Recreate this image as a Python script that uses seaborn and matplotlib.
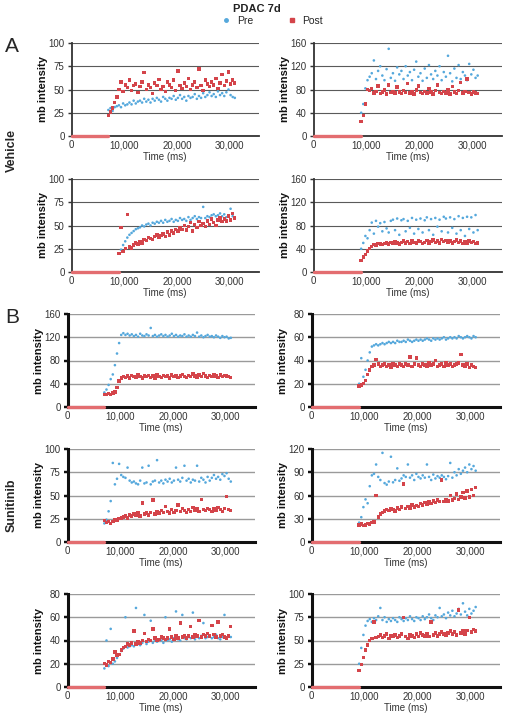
import numpy as np
import pandas as pd
import matplotlib
matplotlib.use("Agg")
import matplotlib.pyplot as plt
from matplotlib.lines import Line2D
import seaborn as sns

# sampling interval of the read-off points (ms)
step_ms = 400
x_ticks = [0, 10000, 20000, 30000]
x_tick_labels = ["0", "10,000", "20,000", "30,000"]

# panels row by row: Vehicle (rows 1-2), Sunitinib (rows 3-5)
panel_onset = [7000, 9000, 9000, 9000, 7000, 9000, 7000, 9000, 7000, 9000]
panel_ymax = [100, 160, 100, 160, 160, 80, 100, 120, 80, 100]
panel_ystep = [25, 40, 25, 40, 40, 20, 25, 30, 20, 25]

pre_1 = [28, 30, 27, 31, 32, 33, 31, 35, 33, 34,
         36, 34, 38, 35, 37, 38, 36, 40, 37, 39,
         36, 40, 38, 41, 39, 37, 42, 40, 38, 41,
         40, 43, 39, 41, 44, 40, 42, 38, 43, 41,
         42, 45, 40, 43, 41, 46, 42, 44, 47, 43,
         45, 42, 48, 44, 46, 43, 47, 50, 44, 42, 41]
post_1 = [22, 26, 30, 36, 42, 50, 58, 48, 55, 52,
          60, 49, 54, 56, 47, 53, 58, 68, 50, 55,
          52, 46, 57, 54, 61, 50, 53, 48, 58, 55,
          52, 60, 49, 70, 54, 51, 57, 53, 62, 50,
          55, 58, 52, 72, 54, 49, 60, 56, 53, 58,
          55, 62, 51, 57, 66, 54, 59, 69, 56, 60, 57]

pre_2 = [40, 55, 82, 96, 102, 108, 130, 98, 112, 120,
         104, 96, 115, 150, 100, 108, 95, 118, 106, 112,
         98, 120, 104, 110, 96, 114, 128, 102, 108, 95,
         116, 100, 122, 106, 98, 112, 104, 120, 96, 110,
         102, 138, 108, 94, 116, 100, 122, 98, 110, 104,
         96, 124, 106, 114, 100, 104]
post_2 = [25, 35, 55, 80, 78, 82, 74, 77, 86, 73,
          76, 79, 72, 88, 75, 77, 74, 84, 76, 73,
          78, 75, 90, 74, 77, 72, 79, 86, 75, 73,
          77, 74, 82, 76, 72, 78, 88, 75, 73, 77,
          74, 79, 72, 85, 76, 73, 78, 92, 74, 77,
          98, 75, 72, 76, 74, 73]

pre_3 = [20, 24, 29, 33, 37, 40, 42, 44, 46, 47,
         48, 50, 49, 51, 52, 50, 53, 52, 54, 53,
         55, 53, 56, 54, 55, 57, 54, 56, 55, 58,
         56, 57, 55, 59, 56, 58, 60, 57, 59, 58,
         70, 58, 60, 59, 61, 62, 60, 61, 63, 60,
         62, 59, 61, 68, 60, 58]
post_3 = [20, 48, 22, 25, 62, 27, 26, 29, 31, 30,
          33, 31, 35, 34, 37, 36, 35, 38, 40, 37,
          39, 41, 38, 43, 40, 44, 42, 46, 44, 48,
          46, 50, 45, 49, 53, 44, 51, 48, 54, 50,
          52, 49, 55, 51, 57, 53, 50, 56, 58, 54,
          57, 55, 60, 56, 63, 58]

pre_4 = [40, 50, 62, 58, 72, 85, 66, 88, 78, 84,
         70, 86, 75, 68, 88, 90, 72, 92, 64, 89,
         91, 70, 88, 76, 93, 66, 90, 74, 92, 68,
         89, 94, 72, 91, 64, 93, 78, 90, 70, 95,
         92, 68, 94, 76, 91, 66, 96, 72, 93, 62,
         95, 74, 94, 68, 98, 72]
post_4 = [20, 26, 30, 36, 40, 44, 47, 46, 49, 48,
          47, 49, 50, 48, 51, 49, 52, 50, 48, 51,
          53, 50, 52, 49, 54, 51, 50, 53, 52, 49,
          51, 54, 50, 52, 55, 51, 53, 50, 56, 52,
          54, 51, 53, 50, 52, 55, 51, 53, 49, 52,
          50, 53, 51, 52, 49, 50]

pre_5 = [25, 30, 38, 48, 56, 72, 92, 110, 124, 127,
         124, 126, 123, 125, 122, 124, 121, 126, 123, 122,
         125, 123, 136, 122, 124, 121, 123, 125, 122, 124,
         121, 123, 126, 122, 124, 121, 123, 122, 125, 121,
         123, 121, 124, 122, 128, 121, 123, 120, 122, 124,
         121, 122, 120, 123, 121, 119, 122, 120, 121, 118, 119]
post_5 = [22, 22, 23, 22, 24, 26, 34, 45, 50, 52,
          51, 53, 50, 54, 52, 51, 55, 52, 50, 53,
          52, 54, 51, 53, 50, 55, 52, 51, 54, 52,
          53, 50, 55, 52, 54, 51, 53, 56, 52, 51,
          54, 52, 57, 53, 51, 55, 52, 58, 53, 51,
          54, 52, 56, 53, 51, 55, 52, 54, 53, 52, 51]

pre_6 = [20, 42, 26, 32, 40, 47, 52, 53, 54, 53,
         54, 55, 54, 55, 56, 55, 56, 55, 57, 56,
         56, 57, 56, 58, 57, 56, 57, 58, 57, 58,
         57, 58, 59, 58, 57, 59, 58, 59, 58, 59,
         60, 58, 59, 60, 59, 60, 59, 61, 60, 59,
         60, 61, 60, 59, 61, 60]
post_6 = [18, 19, 20, 23, 28, 32, 35, 36, 41, 37,
          35, 36, 37, 35, 36, 34, 37, 36, 35, 37,
          36, 35, 37, 36, 43, 35, 37, 42, 36, 35,
          37, 36, 35, 38, 36, 37, 40, 35, 36, 37,
          35, 38, 36, 37, 35, 36, 37, 38, 45, 36,
          35, 37, 34, 36, 35, 34]

pre_7 = [20, 24, 33, 44, 85, 62, 68, 84, 72, 70,
         69, 80, 66, 64, 65, 63, 62, 66, 80, 63,
         64, 82, 62, 65, 66, 88, 64, 66, 63, 67,
         65, 68, 64, 66, 80, 67, 65, 69, 82, 66,
         68, 64, 67, 66, 82, 65, 69, 67, 64, 70,
         66, 69, 72, 68, 70, 67, 73, 71, 74, 68, 65]
post_7 = [23, 21, 22, 20, 22, 24, 23, 25, 26, 27,
          28, 26, 29, 28, 30, 29, 31, 28, 42, 30,
          31, 29, 32, 45, 30, 33, 31, 34, 32, 38,
          33, 31, 35, 32, 34, 40, 33, 36, 34, 32,
          35, 33, 37, 34, 36, 33, 46, 35, 34, 36,
          35, 33, 36, 34, 37, 35, 33, 36, 49, 35, 34]

pre_8 = [25, 32, 45, 55, 50, 72, 86, 88, 100, 84,
         80, 115, 76, 74, 78, 110, 77, 80, 95, 79,
         82, 86, 84, 100, 83, 86, 80, 88, 84, 82,
         86, 83, 100, 84, 80, 87, 82, 85, 83, 86,
         84, 81, 85, 102, 83, 90, 86, 94, 88, 92,
         96, 90, 100, 94, 98, 92]
post_8 = [22, 23, 21, 22, 24, 23, 25, 26, 60, 32,
          36, 38, 40, 42, 41, 43, 42, 40, 44, 42,
          45, 75, 43, 46, 44, 48, 45, 47, 46, 50,
          48, 51, 49, 52, 50, 53, 51, 54, 52, 80,
          52, 55, 53, 60, 54, 56, 62, 55, 58, 64,
          57, 66, 58, 68, 60, 70]

pre_9 = [16, 40, 18, 50, 20, 22, 25, 28, 31, 33,
         60, 34, 35, 36, 35, 68, 37, 36, 38, 62,
         37, 39, 57, 38, 40, 39, 41, 40, 38, 60,
         40, 41, 39, 42, 65, 41, 40, 62, 42, 41,
         43, 42, 64, 41, 43, 42, 44, 55, 42, 43,
         44, 42, 43, 45, 42, 41, 43, 62, 42, 44, 43]
post_9 = [20, 19, 22, 21, 24, 30, 27, 28, 32, 34,
          35, 37, 36, 38, 48, 37, 39, 38, 40, 46,
          39, 41, 40, 50, 42, 40, 41, 43, 42, 41,
          42, 50, 43, 41, 44, 42, 55, 43, 44, 42,
          44, 52, 43, 45, 44, 57, 43, 45, 44, 46,
          44, 53, 45, 43, 56, 44, 45, 43, 42, 44, 52]

pre_10 = [25, 42, 56, 66, 71, 73, 70, 74, 72, 76,
          85, 72, 75, 70, 73, 71, 74, 72, 70, 75,
          73, 71, 74, 72, 76, 73, 71, 75, 74, 72,
          76, 73, 75, 78, 74, 72, 77, 75, 85, 76,
          78, 74, 80, 77, 82, 76, 79, 84, 78, 90,
          81, 77, 84, 79, 82, 86]
post_10 = [18, 24, 32, 40, 45, 50, 52, 70, 53, 54,
           56, 53, 55, 57, 52, 55, 54, 56, 53, 55,
           57, 75, 54, 52, 56, 55, 53, 57, 54, 58,
           56, 55, 57, 54, 70, 56, 58, 55, 57, 59,
           57, 56, 58, 60, 57, 59, 56, 83, 58, 60,
           57, 61, 75, 59, 62, 60]

pre_series = [pre_1, pre_2, pre_3, pre_4, pre_5, pre_6, pre_7, pre_8, pre_9, pre_10]
post_series = [post_1, post_2, post_3, post_4, post_5, post_6, post_7, post_8, post_9, post_10]

pre_color = "#55a8dc"
post_color = "#d4444a"
base_color = "#e36d70"

sns.set_theme(style="white")
plt.rcParams["font.family"] = ["Liberation Sans", "DejaVu Sans"]

W, H = 505, 717
fig = plt.figure(figsize=(W / 100, H / 100), dpi=100)

row_top = [43, 179, 314, 449, 594]
row_h = 93

for k in range(10):
    row, col = k // 2, k % 2
    sunitinib = row >= 2
    if col == 0:
        left, width = (67.5 if sunitinib else 71.5), 187
    else:
        left, width = (311.5 if sunitinib else 313.5), 188
    ax = fig.add_axes([left / W, 1 - (row_top[row] + row_h) / H, width / W, row_h / H])

    onset = panel_onset[k]
    pre, post = pre_series[k], post_series[k]
    df = pd.concat([
        pd.DataFrame({"time": onset + step_ms * np.arange(len(pre)), "intensity": pre, "series": "Pre"}),
        pd.DataFrame({"time": onset + step_ms * np.arange(len(post)), "intensity": post, "series": "Post"}),
    ])
    sns.scatterplot(data=df, x="time", y="intensity", hue="series", style="series", size="series",
                    palette={"Pre": pre_color, "Post": post_color},
                    markers={"Pre": "o", "Post": "s"}, sizes={"Pre": 3.5, "Post": 6},
                    linewidth=0, legend=False, ax=ax, zorder=3)
    # flat pre-injection baseline
    sns.lineplot(x=[0, onset], y=[0, 0], color=base_color, lw=2.4, ax=ax)
    ax.lines[-1].set_clip_on(False)
    ax.lines[-1].set_zorder(5)

    ymax = panel_ymax[k]
    ax.set_xlim(0, 35500)
    ax.set_ylim(0, ymax)
    ax.set_yticks(np.arange(0, ymax + 1, panel_ystep[k]))
    ax.set_xticks(x_ticks)
    ax.set_xticklabels(x_tick_labels)

    grid_c = "#9a9a9a" if sunitinib else "#5a5a5a"
    spine_c = "#111111" if sunitinib else "#333333"
    spine_w = 2.2 if sunitinib else 1.3
    ax.yaxis.grid(True, color=grid_c, lw=1.0 if sunitinib else 0.8)
    ax.set_axisbelow(True)
    for s in ["top", "right"]:
        ax.spines[s].set_visible(False)
    for s in ["left", "bottom"]:
        ax.spines[s].set_color(spine_c)
        ax.spines[s].set_linewidth(spine_w)
    ax.tick_params(axis="y", direction="out", length=3, width=spine_w * 0.8, color=spine_c,
                   labelsize=7, labelcolor="#333333", pad=2, left=True)
    ax.tick_params(axis="x", direction="out", length=0, labelsize=7, labelcolor="#333333", pad=3,
                   bottom=True)
    ax.set_xlabel("Time (ms)", fontsize=7, color="#333333", labelpad=1.5)
    ax.set_ylabel("mb intensity", fontsize=8, fontweight="bold", color="#111111")
    ax.yaxis.set_label_coords(-24 / width, 0.5)

fig.text(257 / W, 1 - 9 / H, "PDAC 7d", ha="center", va="center", fontsize=8, fontweight="bold",
         color="#222222")
handles = [Line2D([], [], marker="o", ls="", color=pre_color, ms=2.5),
           Line2D([], [], marker="s", ls="", color=post_color, ms=3.2)]
fig.legend(handles, ["Pre", "Post"], loc="center", bbox_to_anchor=(272 / W, 1 - 21 / H), ncol=2,
           frameon=False, fontsize=7.5, columnspacing=3.2, handletextpad=0.5, handlelength=1.0)

fig.text(12 / W, 1 - 47 / H, "A", ha="center", va="center", fontsize=15)
fig.text(12 / W, 1 - 318 / H, "B", ha="center", va="center", fontsize=15)
fig.text(12 / W, 1 - 150 / H, "Vehicle", rotation=90, ha="center", va="center", fontsize=9,
         fontweight="bold")
fig.text(12 / W, 1 - 505 / H, "Sunitinib", rotation=90, ha="center", va="center", fontsize=9,
         fontweight="bold")

fig.savefig("out.png", dpi=100)
